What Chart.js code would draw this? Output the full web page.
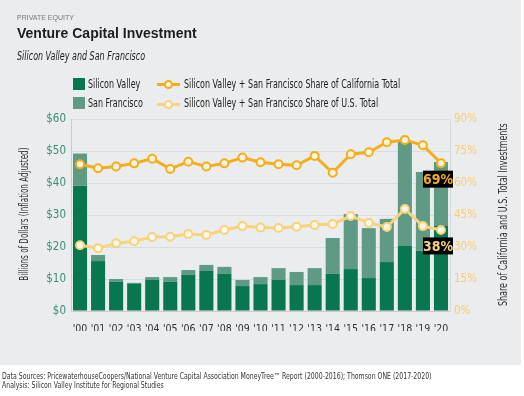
<!DOCTYPE html>
<html>
<head>
<meta charset="utf-8">
<script src="https://cdn.jsdelivr.net/npm/chart.js@4/dist/chart.umd.min.js"></script>
<style>
  body { margin: 0; width: 524px; height: 396px; background: #fff; position: relative; overflow: hidden;
         font-family: "Liberation Sans Narrow", "DejaVu Sans Condensed", sans-serif; color: #222; }
  #panel { position: absolute; left: 0; top: 0; width: 521px; height: 365px; background: #ebecee; }
  #chart { position: absolute; left: 0; top: 0; }
  .t { position: absolute; white-space: nowrap; transform-origin: 0 0; }
  #kicker { left: 17px; top: 14px; font-size: 7px; color: #777; font-family: "Liberation Sans", sans-serif; }
  #title { left: 17px; top: 25px; font-size: 14px; font-weight: bold; color: #1d1d1d; font-family: "Liberation Sans", sans-serif; }
  #subtitle { left: 17px; top: 49px; font-size: 12px; font-style: italic; transform: scaleX(0.74); }
  .leg { position: absolute; font-size: 12.5px; white-space: nowrap; transform-origin: 0 0; transform: scaleX(0.71); }
  .sq { position: absolute; width: 12px; height: 12px; }
  .ln { position: absolute; width: 23px; height: 3px; }
  .dot { position: absolute; width: 5px; height: 5px; border-radius: 50%; border: 2px solid; left: 7px; top: -3px; }
  .axwrap { position: absolute; width: 20px; height: 260px; display: flex; align-items: center; justify-content: center; }
  .axt { writing-mode: vertical-rl; white-space: nowrap; font-size: 12.5px; color: #333; }
  #foot { left: 2px; top: 372px; font-size: 8px; line-height: 9px; color: #333; transform: scaleX(0.86); }
</style>
</head>
<body>
<div id="panel"></div>
<canvas id="chart" width="524" height="396"></canvas>
<div class="t" id="kicker">PRIVATE EQUITY</div>
<div class="t" id="title">Venture Capital Investment</div>
<div class="t" id="subtitle">Silicon Valley and San Francisco</div>
<div id="legend"></div>
<div class="axwrap" style="left:13px;top:84px"><div class="axt" style="transform: rotate(180deg) scaleY(0.64)">Billions of Dollars (Inflation Adjusted)</div></div>
<div class="axwrap" style="left:492px;top:85px"><div class="axt" style="transform: rotate(180deg) scaleY(0.71)">Share of California and U.S. Total Investments</div></div>
<div class="t" id="foot">Data Sources: PricewaterhouseCoopers/National Venture Capital Association MoneyTree™ Report (2000-2016); Thomson ONE (2017-2020)<br>Analysis: Silicon Valley Institute for Regional Studies</div>
<script>
const years = ["'00", "'01", "'02", "'03", "'04", "'05", "'06", "'07", "'08", "'09", "'10",
  "'11", "'12", "'13", "'14", "'15", "'16", "'17", "'18", "'19", "'20"];
// billions of dollars (inflation adjusted)
const siliconValley = [39.1, 15.6, 9.1, 8.6, 9.7, 9.1, 11.3, 12.5, 11.6, 7.8, 8.4,
  9.7, 8.1, 8.1, 11.6, 13.1, 10.3, 15.3, 20.3, 18.8, 26.6];
const sanFrancisco = [10.1, 1.9, 0.9, 0.2, 0.9, 1.5, 1.5, 1.9, 2.2, 1.9, 2.2,
  3.7, 4.1, 5.3, 11.2, 17.2, 15.6, 13.5, 32.8, 24.6, 20.0];
// share of totals, percent
const shareCalifornia = [68.8, 66.9, 67.7, 69.2, 71.4, 66.6, 70.0, 67.7, 69.2, 71.9, 69.7,
  68.8, 68.3, 72.7, 64.8, 73.5, 74.4, 79.1, 80.2, 77.7, 69.3];
const shareUS = [30.8, 29.4, 31.7, 32.7, 34.7, 34.8, 36.1, 35.6, 38.0, 39.8, 39.1,
  38.9, 39.5, 40.3, 40.8, 44.5, 41.3, 39.4, 47.8, 39.8, 38.0];
const dollarTicks = [0, 10, 20, 30, 40, 50, 60];
const shareTicks = [0, 15, 30, 45, 60, 75, 90];

const green = "#08774f";
const greenLight = "#5f9a84";
const orange = "#f3ae1f";
const yellow = "#f8d27c";
const narrow = "'Liberation Sans Narrow', 'DejaVu Sans Condensed', sans-serif";

// legend (2 x 2)
const legend = document.getElementById("legend");
legend.innerHTML =
  '<div class="sq" style="left:73px;top:78px;background:' + green + '"></div>' +
  '<div class="leg" style="left:88px;top:76px">Silicon Valley</div>' +
  '<div class="sq" style="left:73px;top:97px;background:' + greenLight + '"></div>' +
  '<div class="leg" style="left:88px;top:95px">San Francisco</div>' +
  '<div class="ln" style="left:157px;top:83px;background:' + orange + '"><div class="dot" style="border-color:' + orange + ';background:#fff4d6"></div></div>' +
  '<div class="leg" style="left:184px;top:76px">Silicon Valley + San Francisco Share of California Total</div>' +
  '<div class="ln" style="left:157px;top:103px;background:' + yellow + '"><div class="dot" style="border-color:' + yellow + ';background:#fff8e6"></div></div>' +
  '<div class="leg" style="left:184px;top:95px">Silicon Valley + San Francisco Share of U.S. Total</div>';

// black boxes with the last values
const lastLabels = {
  id: "lastLabels",
  afterDatasetsDraw(chart) {
    const ctx = chart.ctx;
    [[2, orange], [3, yellow]].forEach(([i, color]) => {
      const meta = chart.getDatasetMeta(i);
      const pt = meta.data[meta.data.length - 1];
      const v = chart.data.datasets[i].data[meta.data.length - 1];
      const cx = pt.x - 3, cy = pt.y + 16;
      ctx.save();
      ctx.fillStyle = "#000";
      ctx.fillRect(cx - 15, cy - 8.5, 30, 17);
      ctx.fillStyle = color;
      ctx.font = "bold 14px " + narrow;
      ctx.textAlign = "center";
      ctx.textBaseline = "middle";
      ctx.fillText(Math.round(v) + "%", cx, cy + 1);
      ctx.restore();
    });
  }
};

new Chart(document.getElementById("chart"), {
  type: "bar",
  data: {
    labels: years,
    datasets: [
      { label: "Silicon Valley", data: siliconValley, backgroundColor: green, stack: "vc", yAxisID: "y",
        order: 2, barPercentage: 0.78, categoryPercentage: 1 },
      { label: "San Francisco", data: sanFrancisco, backgroundColor: greenLight, stack: "vc", yAxisID: "y",
        order: 2, barPercentage: 0.78, categoryPercentage: 1 },
      { type: "line", label: "Silicon Valley + San Francisco Share of California Total", data: shareCalifornia,
        yAxisID: "y1", borderColor: orange, borderWidth: 3, pointRadius: 4, pointBorderWidth: 2,
        pointBackgroundColor: "#fff4d6", pointBorderColor: orange, order: 1 },
      { type: "line", label: "Silicon Valley + San Francisco Share of U.S. Total", data: shareUS,
        yAxisID: "y1", borderColor: yellow, borderWidth: 3, pointRadius: 4, pointBorderWidth: 2,
        pointBackgroundColor: "#fff8e6", pointBorderColor: yellow, order: 0 }
    ]
  },
  options: {
    responsive: false,
    animation: false,
    devicePixelRatio: 1,
    layout: { padding: { left: 0, right: 0, top: 119, bottom: 65 } },
    plugins: { legend: { display: false }, tooltip: { enabled: false } },
    scales: {
      x: {
        stacked: true,
        afterFit: (s) => { s.height = 20; },
        grid: { display: false },
        border: { color: "#c9cacd" },
        ticks: { color: "#333", padding: 4, maxRotation: 0, minRotation: 0, autoSkip: false,
          font: { family: narrow, size: 10.5 } }
      },
      y: {
        stacked: true,
        position: "left",
        min: 0, max: 60,
        afterFit: (s) => { s.width = 71; },
        afterBuildTicks: (s) => { s.ticks = dollarTicks.map((v) => ({ value: v })); },
        grid: { color: "#d9dbde", drawTicks: false },
        border: { color: "#c9cacd" },
        ticks: { color: "#3b8c74", padding: 5, font: { family: narrow, size: 11.5 }, callback: (v) => "$" + v }
      },
      y1: {
        position: "right",
        min: 0, max: 90,
        afterFit: (s) => { s.width = 74; },
        afterBuildTicks: (s) => { s.ticks = shareTicks.map((v) => ({ value: v })); },
        grid: { display: false, drawTicks: false },
        border: { color: "#d7d9dc" },
        ticks: { color: "#f5cd72", padding: 4, font: { family: narrow, size: 11.5 }, callback: (v) => v + "%" }
      }
    }
  },
  plugins: [lastLabels]
});
</script>
</body>
</html>
